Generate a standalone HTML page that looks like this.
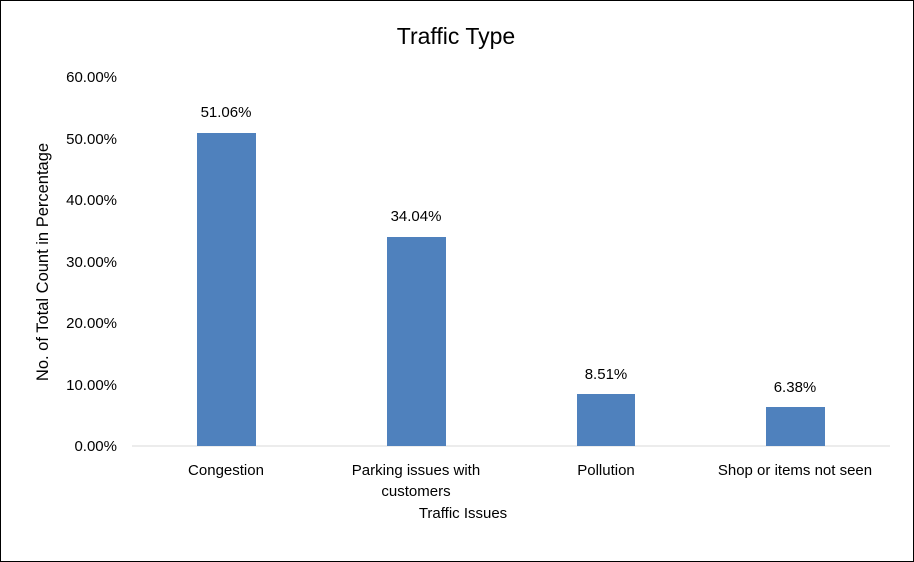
<!DOCTYPE html>
<html><head><style>
html,body{margin:0;padding:0;background:#fff}
svg{display:block}
text{font-family:"Liberation Sans",sans-serif;fill:#000}
</style></head><body>
<svg width="914" height="562" viewBox="0 0 914 562">
<rect x="0.5" y="0.5" width="913" height="561" fill="#fff" stroke="#000"/>
<text x="456" y="44" font-size="23" text-anchor="middle">Traffic Type</text>
<g font-size="15" text-anchor="end">
<text x="117" y="82">60.00%</text>
<text x="117" y="144">50.00%</text>
<text x="117" y="205">40.00%</text>
<text x="117" y="267">30.00%</text>
<text x="117" y="328">20.00%</text>
<text x="117" y="390">10.00%</text>
<text x="117" y="451">0.00%</text>
</g>
<line x1="132" y1="446" x2="890" y2="446" stroke="#d9d9d9" stroke-width="1"/>
<g fill="#4f81bd">
<rect x="197" y="133" width="59" height="313"/>
<rect x="387" y="237" width="59" height="209"/>
<rect x="577" y="394" width="58" height="52"/>
<rect x="766" y="407" width="59" height="39"/>
</g>
<g font-size="15" text-anchor="middle">
<text x="226" y="117">51.06%</text>
<text x="416" y="221">34.04%</text>
<text x="606" y="379">8.51%</text>
<text x="795" y="392">6.38%</text>
<text x="226" y="475">Congestion</text>
<text x="416" y="475">Parking issues with</text>
<text x="416" y="496">customers</text>
<text x="606" y="475">Pollution</text>
<text x="795" y="475">Shop or items not seen</text>
<text x="463" y="518">Traffic Issues</text>
</g>
<text transform="translate(48,262) rotate(-90)" font-size="16.5" text-anchor="middle">No. of Total Count in Percentage</text>
</svg>
</body></html>
